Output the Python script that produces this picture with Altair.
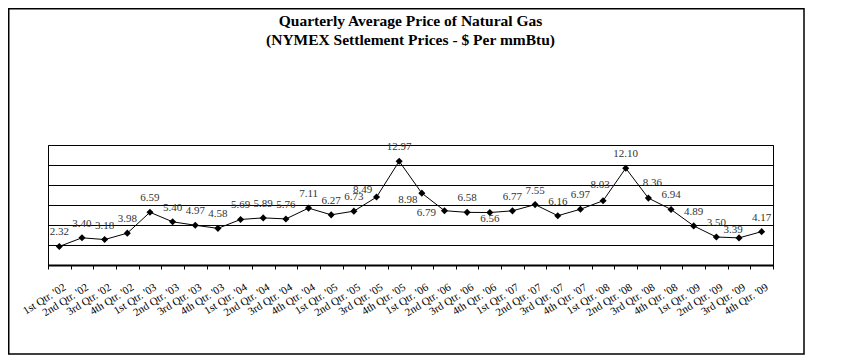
import altair as alt
import pandas as pd

quarters = [
    "1st Qtr. '02", "2nd Qtr. '02", "3rd Qtr. '02", "4th Qtr. '02",
    "1st Qtr. '03", "2nd Qtr. '03", "3rd Qtr. '03", "4th Qtr. '03",
    "1st Qtr. '04", "2nd Qtr. '04", "3rd Qtr. '04", "4th Qtr. '04",
    "1st Qtr. '05", "2nd Qtr. '05", "3rd Qtr. '05", "4th Qtr. '05",
    "1st Qtr. '06", "2nd Qtr. '06", "3rd Qtr. '06", "4th Qtr. '06",
    "1st Qtr. '07", "2nd Qtr. '07", "3rd Qtr. '07", "4th Qtr. '07",
    "1st Qtr. '08", "2nd Qtr. '08", "3rd Qtr. '08", "4th Qtr. '08",
    "1st Qtr. '09", "2nd Qtr. '09", "3rd Qtr. '09", "4th Qtr. '09",
]
prices = [
    2.32, 3.40, 3.18, 3.98,
    6.59, 5.40, 4.97, 4.58,
    5.69, 5.89, 5.76, 7.11,
    6.27, 6.73, 8.49, 12.97,
    8.98, 6.79, 6.58, 6.56,
    6.77, 7.55, 6.16, 6.97,
    8.03, 12.10, 8.36, 6.94,
    4.89, 3.50, 3.39, 4.17,
]
title_lines = ["Quarterly Average Price of Natural Gas",
               "(NYMEX Settlement Prices - $ Per mmBtu)"]

df = pd.DataFrame({"quarter": quarters, "price": prices})
df["label"] = df["price"].map(lambda v: f"{v:.2f}")

SERIF = "Liberation Serif"

# label placement tweaks (style only), keyed by quarter
label_tweaks = {
    "3rd Qtr. '05": (-14, -7),
    "1st Qtr. '06": (-14, 7),
    "2nd Qtr. '06": (-18, 2),
    "4th Qtr. '06": (0, 6),
    "1st Qtr. '08": (-3, -16),
    "3rd Qtr. '08": (4, -15),
    "3rd Qtr. '09": (-6, -8),
}

x_enc = alt.X(
    "quarter:N", sort=quarters, title=None,
    scale=alt.Scale(type="band", paddingInner=0, paddingOuter=0),
    axis=alt.Axis(
        labelAngle=-32, labelAlign="right", labelBaseline="top",
        labelFont=SERIF, labelFontSize=11, labelColor="black",
        labelPadding=12, tickBand="extent", tickSize=4, tickColor="black",
        domainColor="black", domainWidth=2, grid=False, labelOverlap=False,
        labelOffset=2,
    ),
)
y_enc = alt.Y(
    "price:Q", title=None,
    scale=alt.Scale(domain=[0, 15], nice=False, zero=True),
    axis=alt.Axis(values=[0, 2.5, 5, 7.5, 10, 12.5, 15], labels=False,
                  ticks=False, domain=False, grid=True, gridColor="black",
                  gridWidth=1, gridOpacity=1),
)

base = alt.Chart(df)

line = base.mark_line(color="black", strokeWidth=1).encode(x=x_enc, y=y_enc)
pts = base.mark_point(shape="diamond", filled=True, color="black", size=50,
                      opacity=1).encode(x=x_enc, y=y_enc)

text_style = dict(font=SERIF, fontSize=11, color="#333333", baseline="middle",
                  align="center")

default_labels = base.transform_filter(
    ~alt.FieldOneOfPredicate(field="quarter", oneOf=list(label_tweaks.keys()))
).mark_text(dy=-14, **text_style).encode(x=x_enc, y=y_enc, text="label:N")

layers = [line, pts, default_labels]
for q, (dx, dy) in label_tweaks.items():
    layers.append(
        base.transform_filter(alt.datum.quarter == q)
        .mark_text(dx=dx, dy=dy, **text_style)
        .encode(x=x_enc, y=y_enc, text="label:N")
    )

one = alt.Data(values=[{"a": 1}])
title1 = alt.Chart(one).mark_text(
    text=title_lines[0], font=SERIF, fontSize=15.5, fontWeight="bold",
    color="black", align="center", baseline="alphabetic"
).encode(x=alt.value(362.5), y=alt.value(-119.5))
title2 = alt.Chart(one).mark_text(
    text=title_lines[1], font=SERIF, fontSize=15.5, fontWeight="bold",
    color="black", align="center", baseline="alphabetic"
).encode(x=alt.value(362.5), y=alt.value(-100.5))
frame = alt.Chart(one).mark_rect(
    fill=None, stroke="black", strokeWidth=1.5
).encode(x=alt.value(-39.25), x2=alt.value(756), y=alt.value(-136.25),
         y2=alt.value(209))

chart = alt.layer(frame, *layers, title1, title2).properties(
    width=725, height=120,
    padding={"left": 40, "top": 137, "right": 41, "bottom": 90},
    autosize=alt.AutoSizeParams(type="none"),
    background="white",
).configure_view(stroke="black", strokeWidth=1)

chart.save("out.html", embed_options={"renderer": "svg", "actions": False})
